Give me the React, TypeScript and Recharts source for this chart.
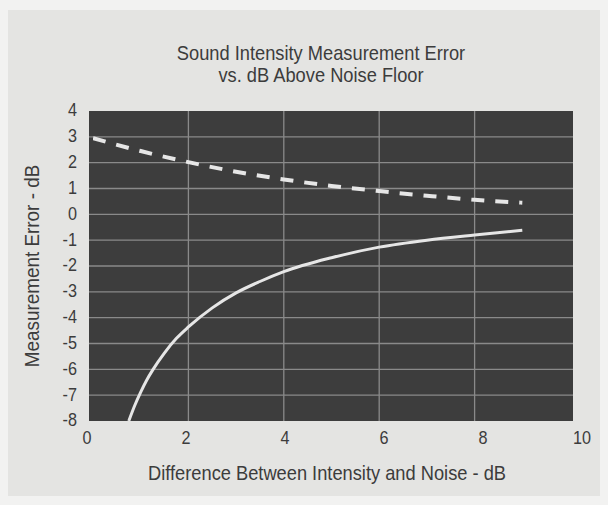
import React from "react";
import { LineChart, Line, XAxis, YAxis, CartesianGrid } from "recharts";

const solidX = [0.75, 0.875, 1, 1.125, 1.25, 1.5, 1.75, 2, 2.5, 3, 3.5, 4, 5, 6, 7, 8, 9];
const solidY = [-8.0, -7.4, -6.88, -6.42, -6.03, -5.36, -4.8, -4.36, -3.62, -3.04, -2.6, -2.22, -1.68, -1.27, -1.0, -0.8, -0.62];
const dashedX = [0, 1, 2, 3, 4, 5, 6, 7, 8, 9];
const dashedY = [2.95, 2.45, 2.02, 1.65, 1.35, 1.1, 0.9, 0.72, 0.56, 0.45];
const xTicks = [0, 2, 4, 6, 8, 10];
const yTicks = [-8, -7, -6, -5, -4, -3, -2, -1, 0, 1, 2, 3, 4];
const xGrid = [2, 4, 6, 8];
const yGrid = [-7, -6, -5, -4, -3, -2, -1, 0, 1, 2, 3];

const solidData = solidX.map((x, i) => ({ x, y: solidY[i] }));
const dashedData = dashedX.map((x, i) => ({ x, y: dashedY[i] }));

const FONT = "'Liberation Sans', Arial, sans-serif";
const TEXT = "#3c3c3c";

function YLabel(props: any) {
  const vb = props.viewBox || {};
  const cx = vb.x + 32;
  const cy = vb.y + vb.height / 2;
  return (
    <text x={0} y={0} transform={`translate(${cx} ${cy}) rotate(-90) scale(0.9 1)`} textAnchor="middle"
      dominantBaseline="central" fontFamily={FONT} fontSize={21} fill={TEXT}>
      Measurement Error - dB
    </text>
  );
}

function XLabel(props: any) {
  const vb = props.viewBox || {};
  const cx = vb.x + vb.width / 2 - 4;
  const cy = vb.y + 52;
  return (
    <text x={0} y={0} transform={`translate(${cx} ${cy}) scale(0.87 1)`} textAnchor="middle"
      dominantBaseline="central" fontFamily={FONT} fontSize={21} fill={TEXT}>
      Difference Between Intensity and Noise - dB
    </text>
  );
}

function XTick(props: any) {
  const { x, y, payload } = props;
  const shift = -6 + 1.8 * Number(payload.value);
  return (
    <text x={0} y={0} dy="0.71em" transform={`translate(${x + shift} ${y}) scale(0.9 1)`} textAnchor="middle"
      fontFamily={FONT} fontSize={18} fill={TEXT}>
      {payload.value}
    </text>
  );
}

function YTick(props: any) {
  const { x, y, payload } = props;
  return (
    <text x={0} y={0} dy="0.355em" transform={`translate(${x} ${y - 1}) scale(0.9 1)`} textAnchor="end"
      fontFamily={FONT} fontSize={18} fill={TEXT}>
      {payload.value}
    </text>
  );
}

export default function App() {
  return (
    <div style={{ position: "fixed", left: 0, top: 0, width: 608, height: 505, background: "#f2f2f1" }}>
      <div style={{ position: "absolute", left: 8, top: 10, width: 592, height: 486, background: "#e4e4e2" }} />
      <div style={{ position: "absolute", left: 0, top: 0, width: 608, height: 505 }}>
        <LineChart width={608} height={505} margin={{ top: 111, right: 35, left: 0, bottom: 0 }}>
          <CartesianGrid fill="#3d3d3d" stroke="#8a8a8a" strokeWidth={1.3}
            horizontalValues={yGrid} verticalValues={xGrid} />
          <XAxis type="number" dataKey="x" domain={[0, 10]} ticks={xTicks} allowDataOverflow
            padding={{ left: 4, right: 3 }} height={84} axisLine={false} tickLine={false} tickSize={0} tickMargin={10}
            tick={<XTick />} label={<XLabel />} />
          <YAxis type="number" dataKey="y" domain={[-8, 4]} ticks={yTicks} allowDataOverflow interval={0}
            width={89} axisLine={false} tickLine={false} tickSize={0} tickMargin={12}
            tick={<YTick />} label={<YLabel />} />
          <Line data={dashedData} dataKey="y" type="monotone" stroke="#e6e6e6" strokeWidth={4}
            strokeDasharray="13 11" dot={false} isAnimationActive={false} />
          <Line data={solidData} dataKey="y" type="monotone" stroke="#e6e6e6" strokeWidth={3}
            dot={false} isAnimationActive={false} />
        </LineChart>
      </div>
      <div style={{ position: "absolute", left: 121, width: 400, top: 42, textAlign: "center", fontFamily: FONT,
        fontSize: 21, lineHeight: "22px", color: TEXT, transform: "scaleX(0.87)", transformOrigin: "200px 0" }}>
        Sound Intensity Measurement Error<br />vs. dB Above Noise Floor
      </div>
    </div>
  );
}
